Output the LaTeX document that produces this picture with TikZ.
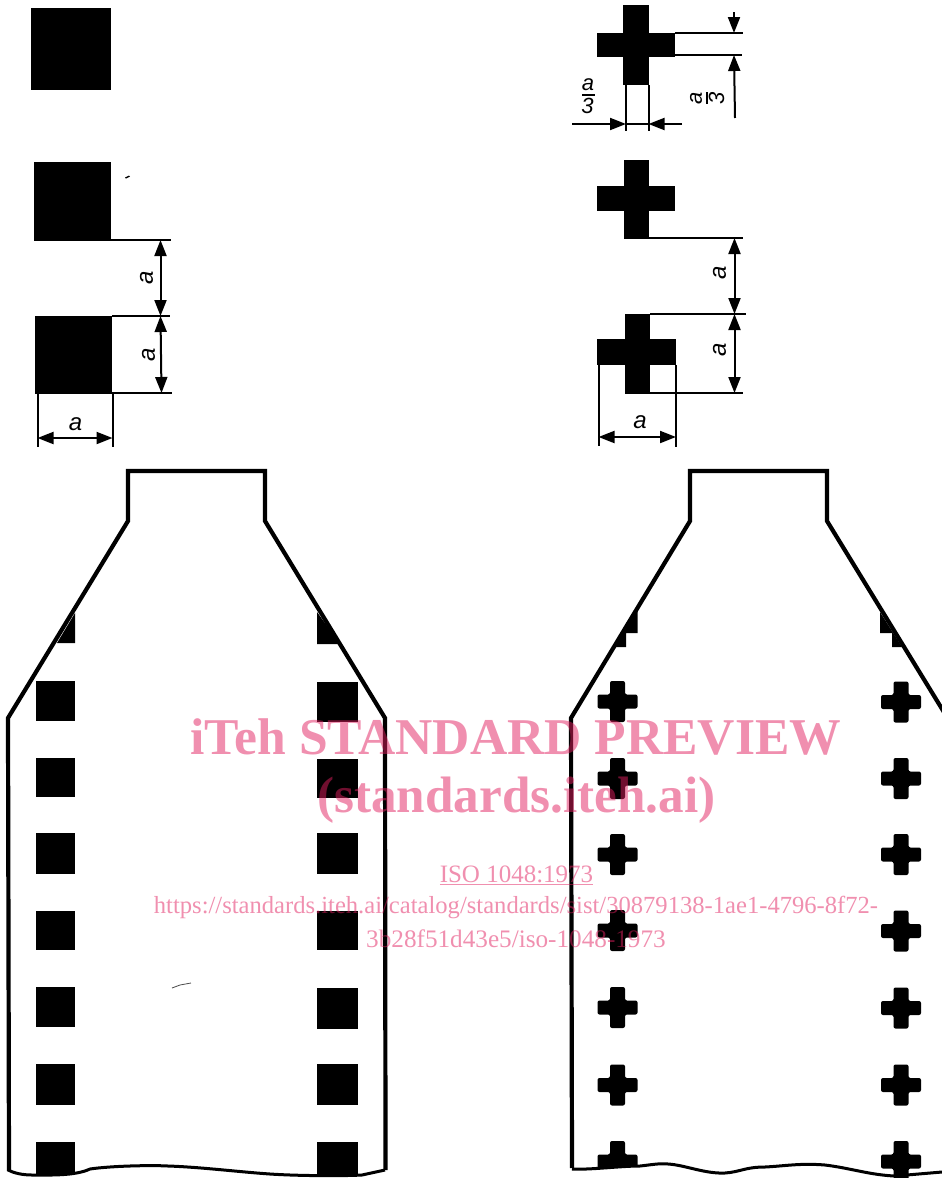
\documentclass[tikz,border=0pt]{standalone}
\usepackage{fontspec}
\setmainfont{Liberation Serif}
\newfontfamily\labelfont{Liberation Sans}
\usetikzlibrary{arrows.meta}
\definecolor{wmark}{RGB}{225,31,95}
\tikzset{
  blackbox/.style={fill=black,draw=none},
  outline/.style={draw=black,line width=4.2pt,line join=miter},
  wavy/.style={draw=black,line width=3pt},
  dimline/.style={draw=black,line width=2pt},
  dimarrow/.style={draw=black,line width=2pt,{Triangle[length=16pt,width=12pt]}-{Triangle[length=16pt,width=12pt]}},
  onearrow/.style={draw=black,line width=2pt,-{Triangle[length=16pt,width=12pt]}},
  dimtext/.style={font=\labelfont\itshape\fontsize{24}{24}\selectfont,inner sep=0pt},
  dimfrac/.style={font=\labelfont\itshape\fontsize{22}{22}\selectfont,inner sep=0pt},
  dimthree/.style={font=\labelfont\itshape\fontsize{22}{22}\selectfont,inner sep=0pt},
  wm/.style={text=wmark,text opacity=.5,inner sep=0pt,anchor=center},
}
\newcommand{\crossat}[2]{% centre x, centre y
  \fill[black,rounded corners=2pt] (#1-20,#2-7) -- (#1-7.5,#2-7) -- (#1-7.5,#2-20.5) -- (#1+7.5,#2-20.5) -- (#1+7.5,#2-7) -- (#1+20,#2-7) -- (#1+20,#2+7) -- (#1+7.5,#2+7) -- (#1+7.5,#2+20.5) -- (#1-7.5,#2+20.5) -- (#1-7.5,#2+7) -- (#1-20,#2+7) -- cycle;
}
\begin{document}
\begin{tikzpicture}[x=1pt,y=-1pt]
\useasboundingbox (0,0) rectangle (942,1178);
% top-left squares
\fill[blackbox] (31,8) rectangle (111,90);
\fill[blackbox] (34,162) rectangle (111,241);
\fill[blackbox] (35,316) rectangle (112,394);
\fill[black] (125,177.5) -- (129,175.5) -- (130,176.5) -- (126,178.5) -- cycle;
\coordinate (l1a) at (111,240); \coordinate (l1b) at (171,240);
\coordinate (l2a) at (112,316); \coordinate (l2b) at (170,316);
\coordinate (l3a) at (112,393); \coordinate (l3b) at (172,393);
\draw[dimline] (l1a) -- (l1b);
\draw[dimline] (l2a) -- (l2b);
\draw[dimline] (l3a) -- (l3b);
\coordinate (la1) at (160.5,240); \coordinate (la2) at (160.5,316); \coordinate (la3) at (161.5,393);
\draw[dimarrow] (la1) -- (la2);
\draw[dimarrow] (la2) -- (la3);
\node[dimtext,rotate=90] (lta) at (146.5,278) {a};
\node[dimtext,rotate=90] (ltb) at (148.5,355) {a};
\coordinate (lv1a) at (37.5,394); \coordinate (lv1b) at (37.5,447);
\coordinate (lv2a) at (112.5,394); \coordinate (lv2b) at (112.5,447);
\draw[dimline] (lv1a) -- (lv1b);
\draw[dimline] (lv2a) -- (lv2b);
\coordinate (lh1) at (37.5,438); \coordinate (lh2) at (112.5,438);
\draw[dimarrow] (lh1) -- (lh2);
\node[dimtext] (ltc) at (75.5,424) {a};
% top-right crosses
\fill[black] (597,33) rectangle (675,57);
\fill[black] (623,5) rectangle (649,85);
\fill[black] (597,186) rectangle (675,211);
\fill[black] (624,160) rectangle (649,239);
\fill[black] (597,339) rectangle (676,365);
\fill[black] (625,314) rectangle (650,394);
\coordinate (r1a) at (675,33); \coordinate (r1b) at (743,33);
\coordinate (r2a) at (675,55); \coordinate (r2b) at (742,55);
\draw[dimline] (r1a) -- (r1b);
\draw[dimline] (r2a) -- (r2b);
\coordinate (rf1) at (734,12); \coordinate (rf2) at (734,33);
\coordinate (rf3) at (735,118); \coordinate (rf4) at (734,55);
\draw[onearrow] (rf1) -- (rf2);
\draw[onearrow] (rf3) -- (rf4);
% rotated a/3
\node[dimfrac,rotate=90] (rfa) at (696,98) {a};
\node[dimthree,rotate=90] (rf3t) at (716.5,98) {3};
\coordinate (rfb1) at (706.5,92); \coordinate (rfb2) at (706.5,104);
\draw[dimline] (rfb1) -- (rfb2);
\coordinate (rv1) at (626,85); \coordinate (rv1b) at (626,131);
\coordinate (rv2) at (648.5,85); \coordinate (rv2b) at (648.5,131);
\draw[dimline] (rv1) -- (rv1b);
\draw[dimline] (rv2) -- (rv2b);
\coordinate (rh1) at (572,124); \coordinate (rh2) at (626,124);
\coordinate (rh3) at (682,124); \coordinate (rh4) at (648.5,124);
\draw[onearrow] (rh1) -- (rh2);
\draw[onearrow] (rh3) -- (rh4);
\draw[dimline] (rh2) -- (rh4);
% upright a/3
\node[dimfrac] (lfa) at (588,85) {a};
\node[dimthree] (lf3) at (587.5,106) {3};
\coordinate (lfb1) at (582,95); \coordinate (lfb2) at (595,95);
\draw[dimline] (lfb1) -- (lfb2);
\coordinate (q1a) at (649,238); \coordinate (q1b) at (743,238);
\coordinate (q2a) at (650,314); \coordinate (q2b) at (746,314);
\coordinate (q3a) at (650,393); \coordinate (q3b) at (743,393);
\draw[dimline] (q1a) -- (q1b);
\draw[dimline] (q2a) -- (q2b);
\draw[dimline] (q3a) -- (q3b);
\coordinate (qa1) at (734.5,238); \coordinate (qa2) at (734.5,314); \coordinate (qa3) at (734.5,393);
\draw[dimarrow] (qa1) -- (qa2);
\draw[dimarrow] (qa2) -- (qa3);
\node[dimtext,rotate=90] (qta) at (719.5,273) {a};
\node[dimtext,rotate=90] (qtb) at (719.5,350) {a};
\coordinate (qv1a) at (598.5,365); \coordinate (qv1b) at (598.5,446);
\coordinate (qv2a) at (676,365); \coordinate (qv2b) at (676,447);
\draw[dimline] (qv1a) -- (qv1b);
\draw[dimline] (qv2a) -- (qv2b);
\coordinate (qh1) at (598.5,437); \coordinate (qh2) at (676,437);
\draw[dimarrow] (qh1) -- (qh2);
\node[dimtext] (qtc) at (640,422) {a};
% left film
\draw[outline] (9,1171) -- (8,718) -- (128,521) -- (128,471) -- (265,471) -- (265,521) -- (385,718) -- (385.5,1170);
\draw[wavy] (8,1170) .. controls (14,1173) and (22,1175) .. (32,1175) .. controls (50,1175) and (75,1176) .. (90,1169) .. controls (110,1166) and (150,1165) .. (168,1166) .. controls (200,1167) and (240,1172) .. (270,1174) .. controls (300,1176) and (345,1176) .. (362,1175) -- (385,1170);
\fill[black] (75,613) -- (75,643) -- (57,643) -- cycle;
\fill[black] (317,612) -- (317,644) -- (340,644) -- cycle;
\foreach \ya/\yb in {681/721,758/797,833/874,911/950,987/1027,1064/1105,1142/1175}{
  \fill[blackbox] (35.5,\ya) rectangle (75,\yb);
}
\foreach \ya/\yb in {682/722,759/798,833/874,911/950,988/1029,1064/1105,1142/1175}{
  \fill[blackbox] (316.5,\ya) rectangle (358,\yb);
}
\draw[black!70,line width=.8pt] (172,988) -- (180,985) -- (191,983);
% right film
\begin{scope}
\clip (0,0) rectangle (942,1178);
\draw[outline] (572,1168) -- (571,718) -- (690,521) -- (690,471) -- (827,471) -- (827,521) -- (950,722);
\draw[wavy] (572,1169) .. controls (590,1170) and (620,1166) .. (640,1166) .. controls (650,1165) and (660,1163) .. (668,1164) .. controls (685,1165) and (705,1174) .. (725,1173) .. controls (740,1172) and (745,1167) .. (765,1167) .. controls (785,1166) and (800,1163) .. (825,1165) .. controls (850,1168) and (870,1175) .. (895,1176) -- (942,1172);
\end{scope}
\fill[black] (637.5,610) -- (637.5,633) -- (626,633) -- (626,647) -- (620,647) -- (613,647) -- cycle;
\fill[black] (880,612) -- (880,633) -- (892,633) -- (892,647) -- (902,647) -- cycle;
\foreach \yy in {701.5,778.5,854.5,930.5,1007.5,1085}{
  \crossat{617.5}{\yy}
}
\foreach \yy in {702,778.5,854.5,931,1008,1085}{
  \crossat{901}{\yy}
}
\begin{scope}
\clip (590,1130) rectangle (650,1166);
\crossat{617.5}{1161.5}
\end{scope}
\crossat{901}{1161.5}
% watermark
\node[wm,font=\bfseries\fontsize{51.6}{51.6}\selectfont] (w1) at (516,737) {iTeh STANDARD PREVIEW};
\node[wm,font=\bfseries\fontsize{51.2}{51.2}\selectfont] (w2) at (516.5,800) {(standards.iteh.ai)};
\node[wm,font=\fontsize{25}{25}\selectfont] (w3) at (516.5,875) {\underline{ISO 1048:1973}};
\node[wm,font=\fontsize{24.6}{24.6}\selectfont] (w4) at (516,907) {https://standards.iteh.ai/catalog/standards/sist/30879138-1ae1-4796-8f72-};
\node[wm,font=\fontsize{25.2}{25.2}\selectfont] (w5) at (516,939) {3b28f51d43e5/iso-1048-1973};
\end{tikzpicture}
\end{document}
